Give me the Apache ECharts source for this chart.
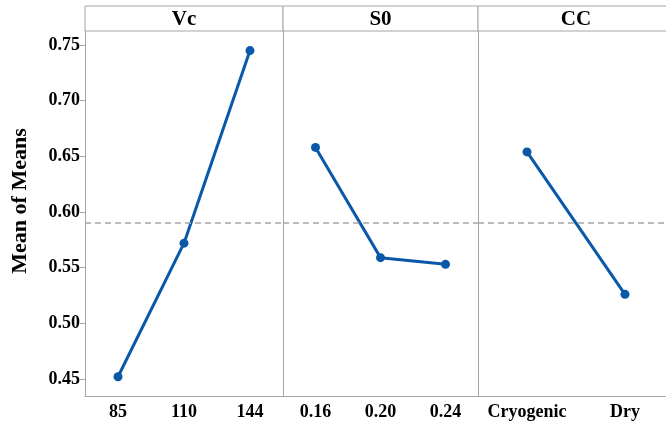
<!DOCTYPE html>
<html><head><meta charset="utf-8">
<script src="https://cdn.jsdelivr.net/npm/echarts@6/dist/echarts.min.js"></script>
<style>html,body{margin:0;padding:0;background:#fff;overflow:hidden}#c{width:674px;height:429px}</style>
</head><body><div id="c"></div>
<script>
const panelTitles = ['Vc', 'S0', 'CC'];
const vcCategories = ['85', '110', '144'];
const vcValues = [0.452, 0.572, 0.745];
const s0Categories = ['0.16', '0.20', '0.24'];
const s0Values = [0.658, 0.559, 0.553];
const ccCategories = ['Cryogenic', 'Dry'];
const ccValues = [0.654, 0.526];
const grandMean = 0.590;
const yTicks = [0.45, 0.50, 0.55, 0.60, 0.65, 0.70, 0.75];
const yTitle = 'Mean of Means';

const chart = echarts.init(document.getElementById('c'), null, {renderer: 'canvas'});
const FONT = 'Liberation Serif';
const GRAY = '#a6a6a6';
const BLUE = '#0a58a8';
const yMin = 0.4347, yMax = 0.7626;
const W = 674;
const panels = [
  {left: 85, right: W - 283, cats: vcCategories, vals: vcValues},
  {left: 283, right: W - 478, cats: s0Categories, vals: s0Values},
  {left: 478, right: 0, cats: ccCategories, vals: ccValues}
];
const TOP = 31, BOTTOM = 33, HEAD = 25;

const grid = [], xAxis = [], yAxis = [], series = [], graphic = [];
panels.forEach((p, i) => {
  const w = W - p.left - p.right;
  grid.push({left: p.left, right: p.right, top: TOP, bottom: BOTTOM, show: false, containLabel: false});
  xAxis.push({
    type: 'category', gridIndex: i, data: p.cats, boundaryGap: true,
    axisLine: {lineStyle: {color: GRAY, width: 1}},
    axisTick: {alignWithLabel: true, length: 4, lineStyle: {color: GRAY}},
    axisLabel: {interval: 0, color: '#000', fontFamily: FONT, fontWeight: 'bold', fontSize: 18, margin: 7},
    splitLine: {show: false}
  });
  yAxis.push({
    type: 'value', gridIndex: i, min: yMin, max: yMax, show: true,
    axisLine: {show: true, lineStyle: {color: GRAY}},
    axisTick: {show: i === 0, length: 5, lineStyle: {color: GRAY}, customValues: yTicks},
    axisLabel: {show: i === 0, color: '#000', fontFamily: FONT, fontWeight: 'bold', fontSize: 18, margin: 5,
      customValues: yTicks, formatter: v => v.toFixed(2)},
    splitLine: {show: false}
  });
  series.push({
    type: 'line', xAxisIndex: i, yAxisIndex: i, data: p.vals,
    symbol: 'circle', symbolSize: 9, lineStyle: {color: BLUE, width: 3},
    itemStyle: {color: BLUE}, animation: false,
    markLine: {silent: true, symbol: 'none', label: {show: false},
      lineStyle: {color: GRAY, type: [6, 4], width: 1.5},
      data: [{yAxis: grandMean}]}
  });
  graphic.push({type: 'rect', shape: {x: p.left, y: TOP - HEAD, width: i === 2 ? w + 30 : w, height: HEAD},
    style: {fill: '#fff', stroke: GRAY, lineWidth: 1}});
  graphic.push({type: 'text', x: p.left + w / 2, y: TOP - HEAD / 2 + 1,
    style: {text: panelTitles[i], fill: '#000', font: 'bold 21px "Liberation Serif"', align: 'center', verticalAlign: 'middle'}});
});
graphic.push({type: 'text', x: 20, y: 201, rotation: Math.PI / 2,
  style: {text: yTitle, fill: '#000', font: 'bold 22px "Liberation Serif"', align: 'center', verticalAlign: 'middle'}});

chart.setOption({animation: false, backgroundColor: '#fff', grid, xAxis, yAxis, series, graphic});
</script></body></html>
